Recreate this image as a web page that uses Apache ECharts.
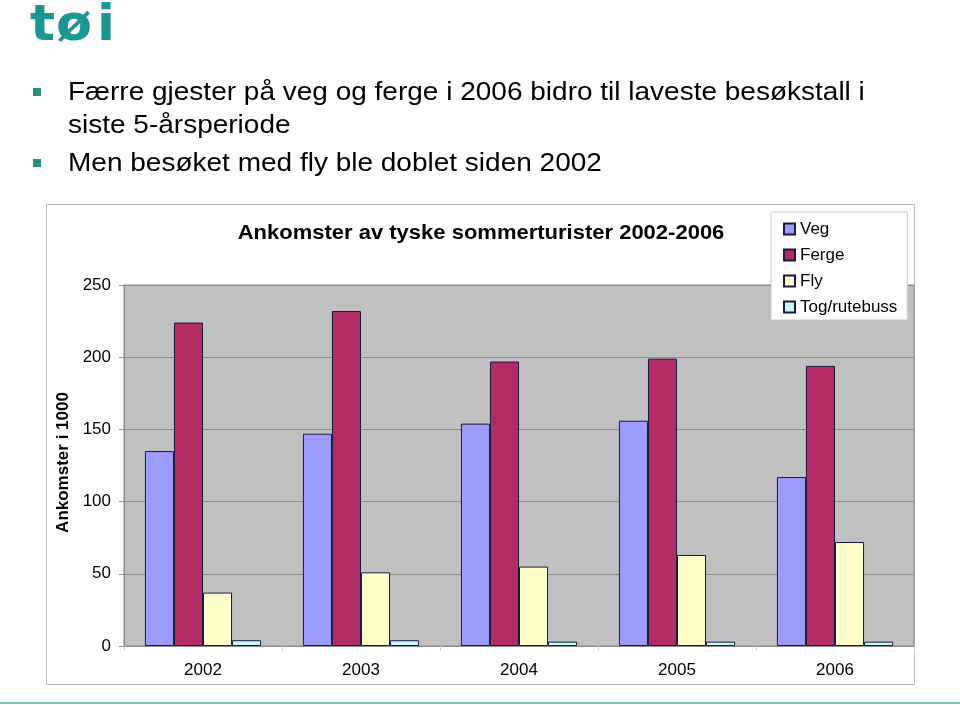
<!DOCTYPE html>
<html>
<head>
<meta charset="utf-8">
<script src="https://cdn.jsdelivr.net/npm/echarts@6/dist/echarts.min.js"></script>
<style>
html,body{margin:0;padding:0;background:#fff;}
#chart{width:960px;height:705px;}
</style>
</head>
<body>
<div id="chart"></div>
<script>
const categories = ['2002', '2003', '2004', '2005', '2006'];
const seriesNames = ['Veg', 'Ferge', 'Fly', 'Tog/rutebuss'];
const vegValues = [135, 147, 154, 156, 117];
const fergeValues = [224, 232, 197, 199, 194];
const flyValues = [37, 51, 55, 63, 72];
const togValues = [4, 4, 3, 3, 3];
const yTicks = [0, 50, 100, 150, 200, 250];
const chartTitle = 'Ankomster av tyske sommerturister 2002-2006';
const yAxisName = 'Ankomster i 1000';
const bulletLines = [
  'Færre gjester på veg og ferge i 2006 bidro til laveste besøkstall i',
  'siste 5-årsperiode',
  'Men besøket med fly ble doblet siden 2002'
];
const logoLetters = ['t', 'ø', 'i'];

const colors = ['#9C9CFF', '#B22D66', '#FFFFCC', '#BFFBFF'];
const allValues = [vegValues, fergeValues, flyValues, togValues];
const FONT = '"Liberation Sans", Arial, sans-serif';

const chart = echarts.init(document.getElementById('chart'));

function bulletText(str, y) {
  return {
    type: 'text', x: 68, y: y, scaleY: 0.9,
    style: { text: str, font: '28px ' + FONT, fill: '#000', textVerticalAlign: 'middle' }
  };
}

const logoX = [30, 56, 97];
const logoGraphics = logoLetters.map((ch, i) => ({
  type: 'text', x: logoX[i], y: 2, scaleX: 1.05,
  style: { text: ch, font: 'bold 50px "DejaVu Sans", sans-serif', fill: '#1B9693' }
}));

const option = {
  animation: false,
  backgroundColor: '#ffffff',
  legend: {
    orient: 'vertical',
    left: 771,
    top: 212,
    padding: [8, 10, 4, 12],
    itemWidth: 11,
    itemHeight: 11,
    itemGap: 8,
    icon: 'rect',
    backgroundColor: '#ffffff',
    borderColor: '#c8c8c8',
    borderWidth: 1,
    textStyle: { fontFamily: FONT, fontSize: 17, color: '#000', lineHeight: 18 },
    data: seriesNames
  },
  grid: {
    left: 124,
    right: 46,
    top: 285,
    bottom: 59,
    show: true,
    backgroundColor: '#C0C0C0',
    borderColor: '#8c8c8c',
    borderWidth: 1
  },
  xAxis: {
    type: 'category',
    data: categories,
    axisLine: { show: true, lineStyle: { color: '#8c8c8c' } },
    axisTick: { show: true, length: 5, lineStyle: { color: '#d0d0d0' } },
    axisLabel: { fontFamily: FONT, fontSize: 17, color: '#000', margin: 16 }
  },
  yAxis: {
    type: 'value',
    min: yTicks[0],
    max: yTicks[yTicks.length - 1],
    interval: yTicks[1] - yTicks[0],
    name: yAxisName,
    nameLocation: 'middle',
    nameRotate: 90,
    nameGap: 50,
    nameTextStyle: { fontFamily: FONT, fontSize: 17, fontWeight: 'bold', color: '#000', padding: [0, 0, 0, 6] },
    axisLine: { show: true, lineStyle: { color: '#8c8c8c' } },
    axisTick: { show: true, length: 5, lineStyle: { color: '#8c8c8c' } },
    axisLabel: { fontFamily: FONT, fontSize: 17, color: '#000', margin: 13 },
    splitLine: { show: true, lineStyle: { color: '#8c8c8c', width: 1 } }
  },
  series: seriesNames.map((name, i) => ({
    name: name,
    type: 'bar',
    data: allValues[i],
    barGap: '0%',
    barCategoryGap: '26.5%',
    itemStyle: { color: colors[i], borderColor: '#1a1a3a', borderWidth: 1 }
  })),
  graphic: logoGraphics.concat([
    { type: 'rect', shape: { x: 33, y: 88, width: 8, height: 8 }, style: { fill: '#2A8C7C' } },
    { type: 'rect', shape: { x: 33, y: 159, width: 8, height: 8 }, style: { fill: '#2A8C7C' } },
    bulletText(bulletLines[0], 93),
    bulletText(bulletLines[1], 126),
    bulletText(bulletLines[2], 164),
    {
      type: 'text', x: 481, y: 234, scaleY: 0.88,
      style: {
        text: chartTitle, font: 'bold 22px ' + FONT, fill: '#000',
        textAlign: 'center', textVerticalAlign: 'middle'
      }
    },
    {
      type: 'rect', z: -10,
      shape: { x: 46.5, y: 204.5, width: 868, height: 480 },
      style: { fill: 'none', stroke: '#bdbdbd', lineWidth: 1 }
    },
    {
      type: 'line',
      shape: { x1: 0, y1: 703, x2: 960, y2: 703 },
      style: { stroke: '#7cc0bd', lineWidth: 2 }
    }
  ])
};

chart.setOption(option);
</script>
</body>
</html>
